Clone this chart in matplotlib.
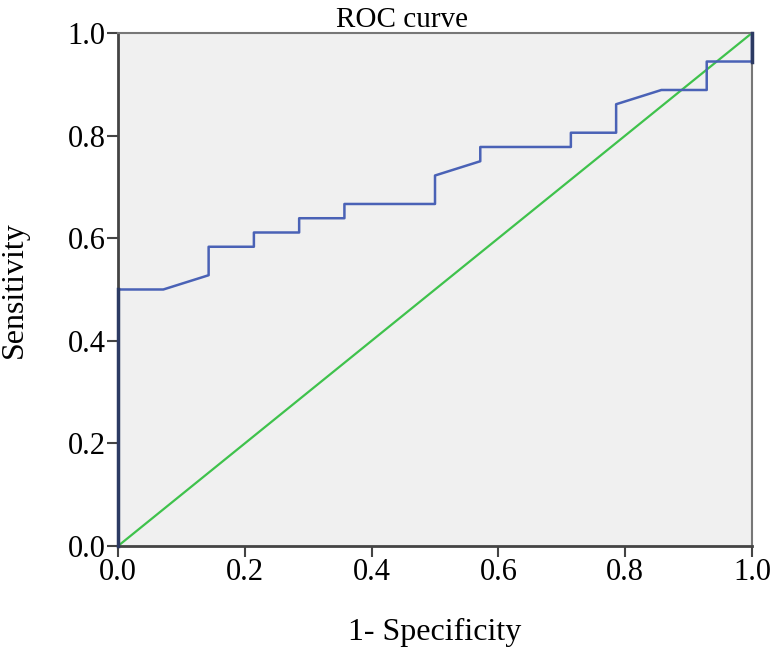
import numpy as np
import matplotlib
matplotlib.use("Agg")
import matplotlib.pyplot as plt

# punti della curva ROC (1 - specificita, sensibilita)
fpr = [0.0, 0.0, 0.0714, 0.1429, 0.1429, 0.2143, 0.2143, 0.2857, 0.2857,
       0.3571, 0.3571, 0.5, 0.5, 0.5714, 0.5714, 0.7143, 0.7143, 0.7857,
       0.7857, 0.8571, 0.9286, 0.9286, 1.0, 1.0]
tpr = [0.0, 0.5, 0.5, 0.5278, 0.5833, 0.5833, 0.6111, 0.6111, 0.6389,
       0.6389, 0.6667, 0.6667, 0.7222, 0.75, 0.7778, 0.7778, 0.8056, 0.8056,
       0.8611, 0.8889, 0.8889, 0.9444, 0.9444, 1.0]
ref_line = [0.0, 1.0]
ticks = [0.0, 0.2, 0.4, 0.6, 0.8, 1.0]

plt.rcParams['font.family'] = ['Liberation Serif', 'DejaVu Serif']

fig = plt.figure(figsize=(7.75, 6.52), dpi=100)
ax = fig.add_axes([0.1523, 0.1626, 0.818, 0.7868])
ax.set_facecolor('#f0f0f0')

ax.plot(ref_line, ref_line, color='#3fc24c', lw=1.6, zorder=2)
ax.plot(fpr, tpr, color='#4a62b6', lw=1.8, zorder=3)
# tratti verticali sui bordi, piu scuri
ax.plot(fpr[:2], tpr[:2], color='#2c3a63', lw=2.5, zorder=4, clip_on=False)
ax.plot(fpr[-2:], tpr[-2:], color='#2c3a63', lw=2.5, zorder=4, clip_on=False)

ax.set_xlim(0, 1)
ax.set_ylim(0, 1)
ax.set_xticks(ticks)
ax.set_yticks(ticks)
ax.set_xticklabels([f"{t:.1f}" for t in ticks])
ax.set_yticklabels([f"{t:.1f}" for t in ticks])
ax.tick_params(direction='out', length=8, width=1.5, color='#444444',
               labelsize=22, pad=1)

for s in ['left', 'bottom']:
    ax.spines[s].set_color('#444444')
    ax.spines[s].set_linewidth(2)
for s in ['top', 'right']:
    ax.spines[s].set_color('#777777')
    ax.spines[s].set_linewidth(1.5)

ax.set_title('ROC curve', fontsize=21, pad=3, x=0.448)
ax.set_xlabel('1- Specificity', fontsize=23, labelpad=22)
ax.set_ylabel('Sensitivity', fontsize=23, labelpad=28)

fig.savefig('out.png', dpi=100)
